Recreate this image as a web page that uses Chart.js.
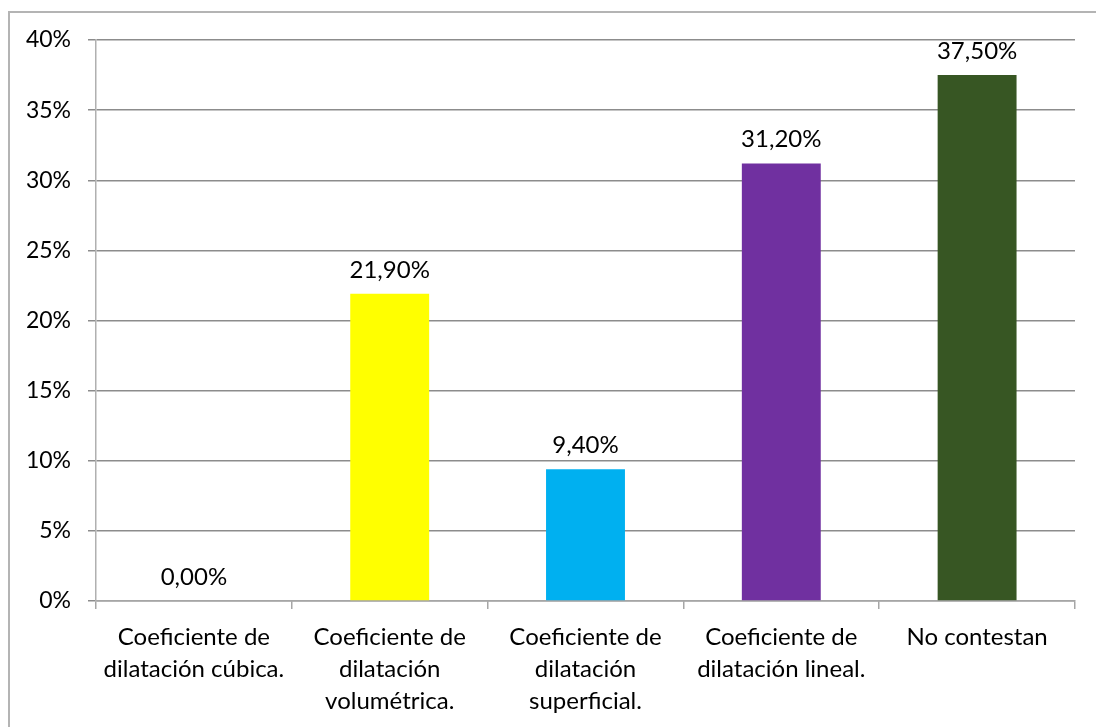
<!DOCTYPE html>
<html>
<head>
<meta charset="utf-8">
<script src="https://cdn.jsdelivr.net/npm/chart.js@4/dist/chart.umd.min.js"></script>
<style>
  html, body { margin: 0; padding: 0; background: #fff; }
  #wrap { position: relative; width: 1096px; height: 727px; overflow: hidden; }
  #frame {
    position: absolute; left: 8px; top: 11px; width: 1100px; height: 730px;
    border: 2px solid #b4b4b4; box-sizing: border-box; pointer-events: none;
  }
  canvas { position: absolute; left: 0; top: 0; }
</style>
</head>
<body>
<div id="wrap">
  <canvas id="chart" width="1096" height="727"></canvas>
  <div id="frame"></div>
</div>
<script>
// ── Data ─────────────────────────────────────────────────────────────────────
const categories = [
    ['Coeficiente de', 'dilatación cúbica.'],
    ['Coeficiente de', 'dilatación', 'volumétrica.'],
    ['Coeficiente de', 'dilatación', 'superficial.'],
    ['Coeficiente de', 'dilatación lineal.'],
    'No contestan'
];
const values = [0, 21.9, 9.4, 31.2, 37.5];
const barColors = ['#FFFF00', '#FFFF00', '#00B0F0', '#7030A0', '#375623'];
const yTicks = [0, 5, 10, 15, 20, 25, 30, 35, 40];

const FONT = 'Lato, "Liberation Sans", sans-serif';

// Value label above each bar, e.g. "21,90%"
const valueLabels = {
    id: 'valueLabels',
    afterDatasetsDraw(chart) {
        const ctx = chart.ctx;
        const meta = chart.getDatasetMeta(0);
        ctx.save();
        ctx.font = '24px ' + FONT;
        ctx.fillStyle = '#000';
        ctx.textAlign = 'center';
        ctx.textBaseline = 'middle';
        meta.data.forEach((bar, i) => {
            const txt = values[i].toFixed(2).replace('.', ',') + '%';
            ctx.fillText(txt, bar.x, bar.y - 24);
        });
        ctx.restore();
    }
};

new Chart(document.getElementById('chart').getContext('2d'), {
    type: 'bar',
    data: {
        labels: categories,
        datasets: [{
            data: values,
            backgroundColor: barColors,
            borderWidth: 0,
            categoryPercentage: 1,
            barPercentage: 0.403
        }]
    },
    options: {
        responsive: false,
        animation: false,
        events: [],
        layout: { padding: { left: 0, right: 21, top: 40, bottom: 0 } },
        plugins: { legend: { display: false }, tooltip: { enabled: false } },
        scales: {
            x: {
                grid: { display: true, drawOnChartArea: false, offset: true, tickLength: 8, color: '#a6a6a6', lineWidth: 1.5 },
                border: { display: true, color: '#a6a6a6', width: 1.5 },
                ticks: {
                    autoSkip: false, maxRotation: 0, padding: 12,
                    color: '#000',
                    font: { family: FONT, size: 24, lineHeight: 1.34 }
                },
                afterFit(s) { s.height = 727 - 601; }
            },
            y: {
                min: 0, max: 40,
                afterBuildTicks(s) { s.ticks = yTicks.map(v => ({ value: v })); },
                grid: { color: '#8c8c8c', lineWidth: 1.5, tickLength: 8 },
                border: { display: true, color: '#b0b0b0', width: 1.5 },
                ticks: {
                    padding: 17,
                    color: '#000',
                    font: { family: FONT, size: 23 },
                    callback: v => v + '%'
                },
                afterFit(s) { s.width = 96; }
            }
        }
    },
    plugins: [valueLabels]
});
</script>
</body>
</html>
